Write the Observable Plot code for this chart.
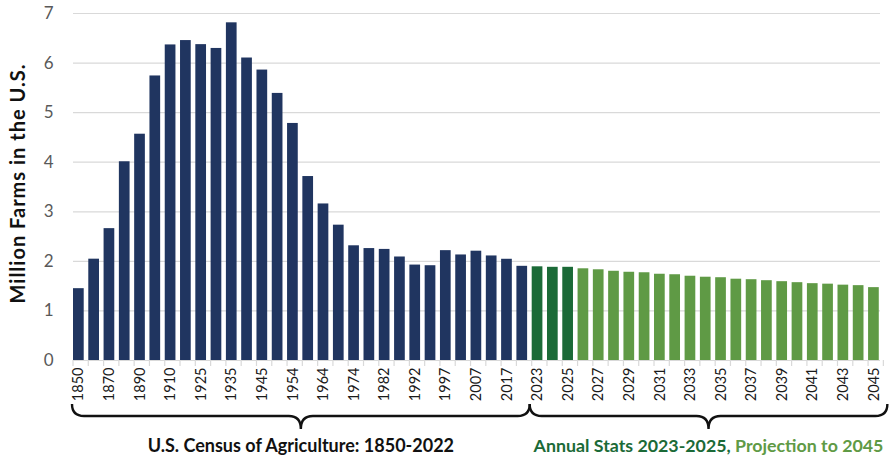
<!DOCTYPE html>
<html>
<head>
<meta charset="utf-8">
<script src="https://cdn.jsdelivr.net/npm/d3@7"></script>
<script src="https://cdn.jsdelivr.net/npm/@observablehq/plot@0.6"></script>
<style>
  html, body { margin: 0; padding: 0; background: #fff; }
  #chart { width: 892px; height: 456px; }
  svg { font-family: Lato, "DejaVu Sans", sans-serif; }
</style>
</head>
<body>
<div id="chart"></div>
<script>
// Year labels (1997 appears twice: old and new census methodology)
const years = [
  "1850","1860","1870","1880","1890","1900","1910","1920","1925","1930",
  "1935","1940","1945","1950","1954","1959","1964","1969","1974","1978",
  "1982","1987","1992","1997","1997","2002","2007","2012","2017","2022",
  "2023","2024","2025","2026","2027","2028","2029","2030","2031","2032",
  "2033","2034","2035","2036","2037","2038","2039","2040","2041","2042",
  "2043","2044","2045"
];
// Million farms in the U.S.
const farms = [
  1.449, 2.044, 2.660, 4.009, 4.565, 5.740, 6.366, 6.454, 6.372, 6.295,
  6.812, 6.102, 5.859, 5.388, 4.782, 3.711, 3.158, 2.730, 2.314, 2.258,
  2.241, 2.088, 1.925, 1.912, 2.216, 2.129, 2.205, 2.109, 2.042, 1.900,
  1.89, 1.88, 1.88, 1.85, 1.83, 1.80, 1.78, 1.77, 1.74, 1.73,
  1.70, 1.68, 1.67, 1.64, 1.63, 1.61, 1.59, 1.57, 1.55, 1.54,
  1.52, 1.51, 1.47
];
const groups = ["census", "annual", "projection"];
const groupColors = ["#203560", "#1b6a37", "#5f9a45"];
const yTicks = [0, 1, 2, 3, 4, 5, 6, 7];
const gridTicks = [1, 2, 3, 4, 5, 6, 7];
const yTitle = "Million Farms in the U.S.";
const censusLabel = "U.S. Census of Agriculture: 1850-2022";
const annualLabel = "Annual Stats 2023-2025,";
const projectionLabel = " Projection to 2045";

const data = years.map((yr, i) => ({
  i,
  year: yr,
  farms: farms[i],
  group: i < 30 ? "census" : (+yr <= 2025 ? "annual" : "projection")
}));

const plot = Plot.plot({
  width: 892,
  height: 456,
  marginLeft: 73,
  marginRight: 12,
  marginTop: 13,
  marginBottom: 96,
  style: { fontFamily: "Lato, 'DejaVu Sans', sans-serif", background: "#fff" },
  x: {
    type: "band",
    domain: data.map(d => d.i),
    paddingInner: 0.3,
    paddingOuter: 0.04,
    align: 0,
    round: false
  },
  y: { domain: [0, 7] },
  color: { domain: groups, range: groupColors },
  marks: [
    Plot.gridY(gridTicks, { stroke: "#d9d9d9", strokeOpacity: 1, strokeWidth: 1.2 }),
    Plot.ruleY([0], { stroke: "#d9d9d9", strokeWidth: 1.2 }),
    Plot.barY(data, { x: "i", y: "farms", fill: "group" }),
    Plot.axisY({
      ticks: yTicks, tickSize: 0, tickPadding: 20, fontSize: 17,
      fill: "#595959", label: null, tickFormat: "d"
    }),
    Plot.axisX({
      tickSize: 0, tickPadding: 7, tickRotate: -90, fontSize: 14.5,
      fill: "#1a1a1a", label: null,
      tickFormat: (d) => (d % 2 === 0 ? years[d] : "")
    })
  ]
});

document.getElementById("chart").appendChild(plot);

// Annotations: boundary ticks, braces, group labels, y title
const svg = d3.select(plot);
const x = plot.scale("x");
const y = plot.scale("y");
const step = x.step;
const y0 = y.apply(0);

const g = svg.append("g");
const edges = data.map(d => x.apply(d.i));
edges.push(x.apply(data.length - 1) + step);
g.selectAll("line.edge").data(edges).join("line")
  .attr("x1", d => d).attr("x2", d => d)
  .attr("y1", y0).attr("y2", y0 + 6)
  .attr("stroke", "#d9d9d9").attr("stroke-width", 1.2);

function brace(x0, x1, yTop, yMid, yTip) {
  const xm = (x0 + x1) / 2, r = 12;
  return `M${x0},${yTop} Q${x0},${yMid} ${x0 + r},${yMid} L${xm - r},${yMid} ` +
    `Q${xm},${yMid} ${xm},${yTip} Q${xm},${yMid} ${xm + r},${yMid} ` +
    `L${x1 - r},${yMid} Q${x1},${yMid} ${x1},${yTop}`;
}
const bStart = x.apply(0) - 1;
const bSplit = x.apply(30) - 2;
const bEnd = x.apply(data.length - 1) + step + 4;
[[bStart, bSplit], [bSplit, bEnd]].forEach(([a, b]) => {
  g.append("path")
    .attr("d", brace(a, b, 404, 416, 429))
    .attr("fill", "none").attr("stroke", "#111").attr("stroke-width", 2.4);
});

g.append("text")
  .attr("x", (bStart + bSplit) / 2).attr("y", 452)
  .attr("text-anchor", "middle")
  .attr("font-size", 18).attr("font-weight", 700).attr("fill", "#111")
  .text(censusLabel);

const t2 = g.append("text")
  .attr("x", (bSplit + bEnd) / 2).attr("y", 452)
  .attr("text-anchor", "middle")
  .attr("font-size", 17.8).attr("font-weight", 700);
t2.append("tspan").attr("fill", groupColors[1]).text(annualLabel);
t2.append("tspan").attr("fill", groupColors[2]).text(projectionLabel);

g.append("text")
  .attr("transform", `translate(25,${(y.apply(0) + y.apply(7)) / 2 - 3}) rotate(-90)`)
  .attr("text-anchor", "middle")
  .attr("font-size", 20).attr("font-weight", 700).attr("fill", "#111")
  .attr("letter-spacing", 1)
  .text(yTitle);
</script>
</body>
</html>
